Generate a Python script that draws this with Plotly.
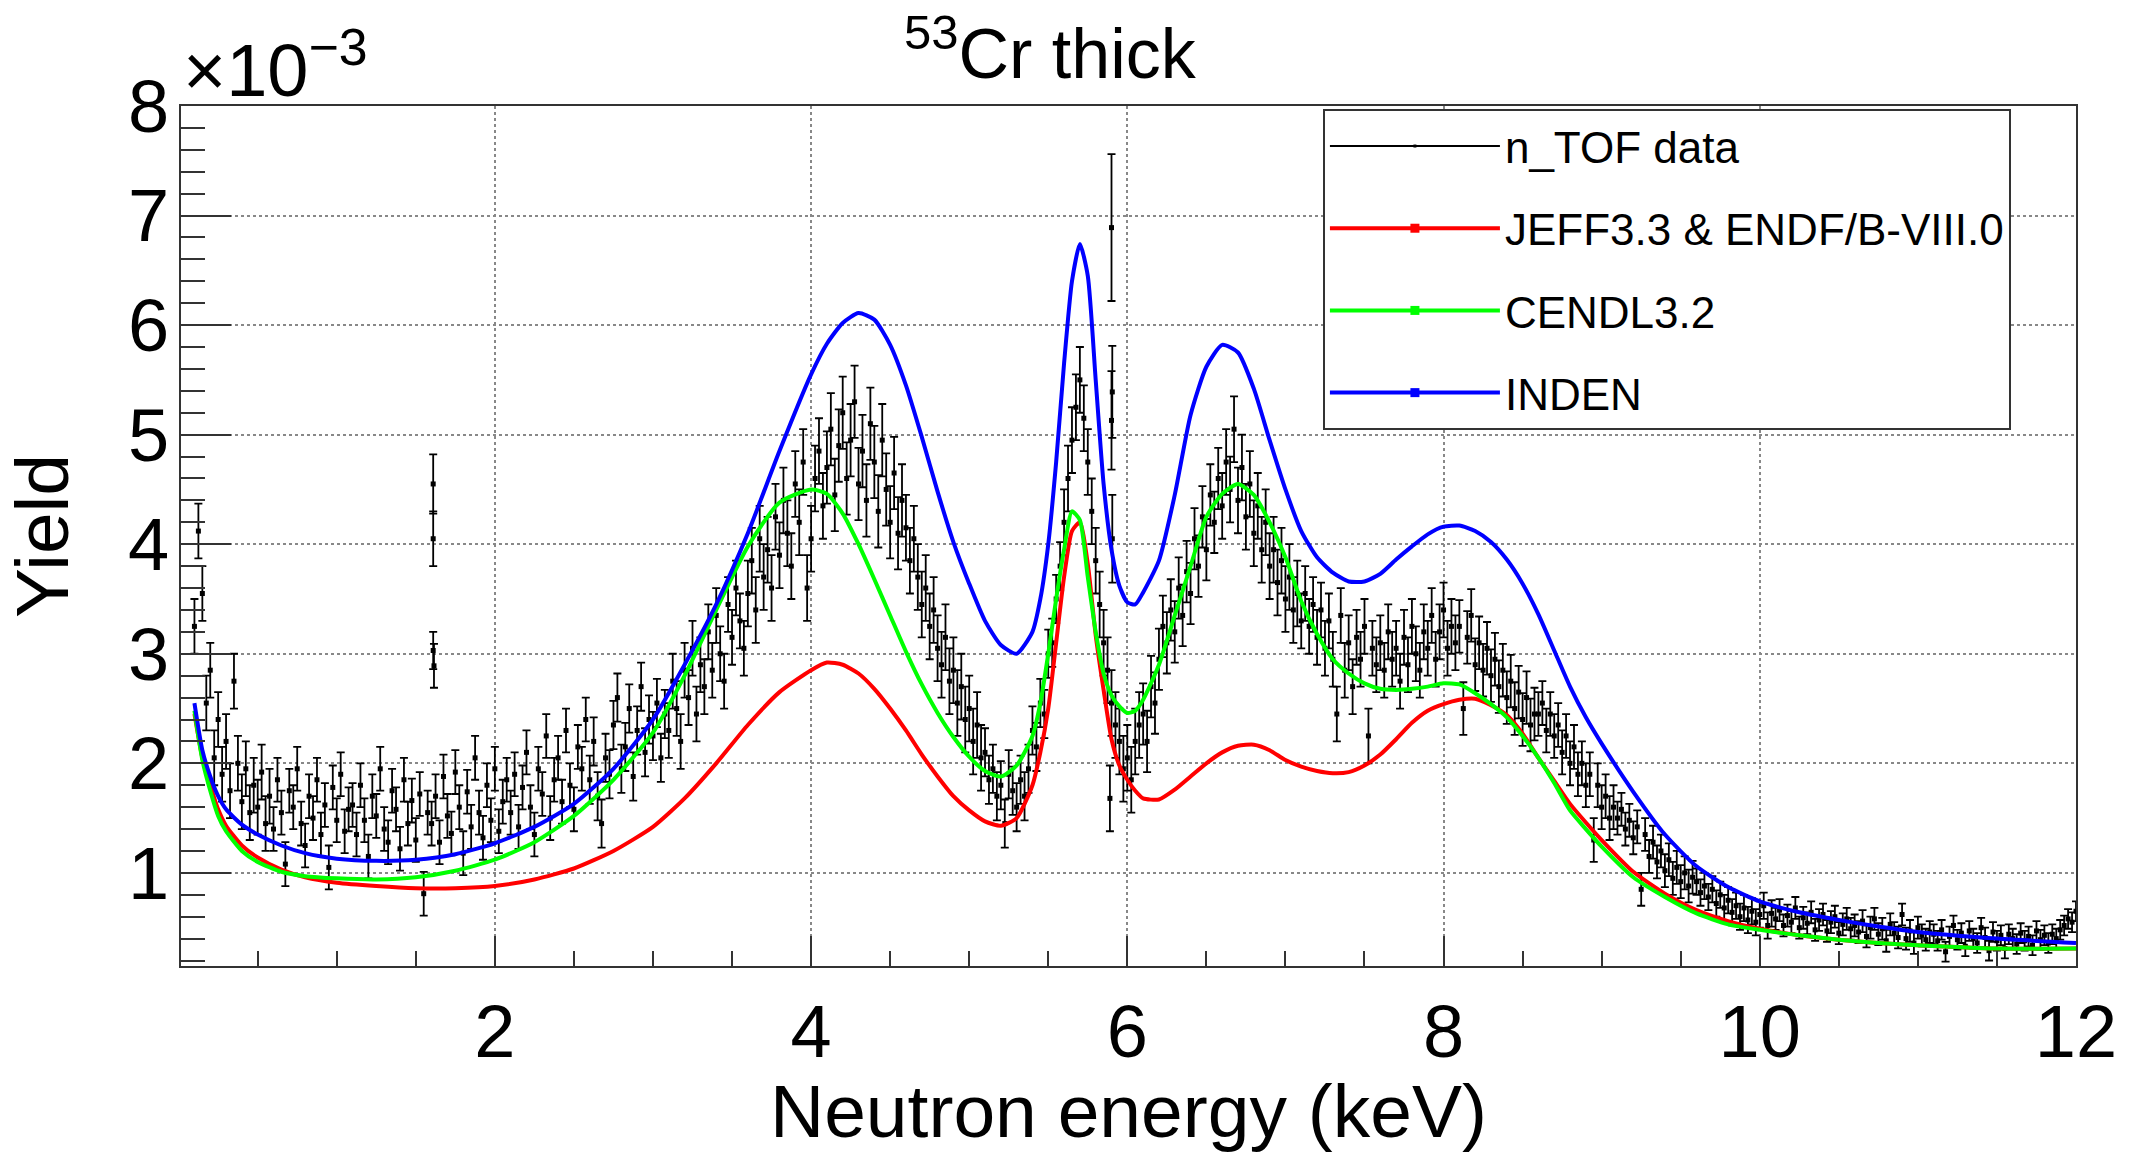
import plotly.graph_objects as go

# ---------------- n_TOF data (Yield in units of 1e-3), uniform 0.025 keV bins starting at 0.1 keV
E_START = 0.1
E_STEP = 0.025
YIELD = [
    # 0.100 - 0.575
    3.25, 4.12, 3.55, 2.55, 2.85, 2.05, 2.40, 1.90, 2.20, 1.75, 2.75, 2.00, 1.65, 1.95, 1.55, 1.80, 1.60, 1.92, 1.45, 1.70,
    # 0.600 - 1.075
    1.40, 1.85, 1.55, 1.08, 1.75, 1.60, 1.95, 1.45, 1.25, 1.70, 1.50, 1.85, 1.35, 1.62, 1.05, 1.78, 1.48, 1.90, 1.38, 1.58,
    # 1.100 - 1.575
    1.62, 1.35, 1.80, 1.48, 1.15, 1.70, 1.52, 1.95, 1.40, 1.28, 1.75, 1.58, 1.22, 1.85, 1.45, 1.66, 1.30, 1.72, 0.81, 1.55,
    # 1.600 - 2.075
    1.45, 1.70, 1.28, 1.88, 1.52, 1.36, 1.92, 1.60, 1.18, 1.74, 1.42, 2.05, 1.55, 1.32, 1.80, 1.48, 1.95, 1.38, 1.65, 1.85,
    # 2.100 - 2.575
    1.55, 1.90, 1.42, 1.78, 2.10, 1.60, 1.35, 1.95, 1.72, 2.25, 1.50, 1.85, 2.05, 1.65, 2.30, 1.80, 1.58, 2.15, 1.95, 2.40,
    # 2.600 - 3.075
    1.85, 2.20, 1.70, 1.45, 2.05, 1.90, 2.35, 2.60, 1.95, 2.15, 2.50, 1.88, 2.30, 2.70, 2.10, 2.40, 2.25, 2.55, 2.05, 2.45,
    # 3.100 - 3.575
    2.30, 2.75, 2.50, 2.20, 2.85, 2.60, 3.05, 2.45, 2.90, 2.70, 3.20, 2.85, 3.35, 3.00, 2.75, 3.45, 3.15, 3.60, 3.30, 3.05,
    # 3.600 - 4.075
    3.55, 3.85, 3.40, 4.05, 3.70, 3.95, 3.60, 4.25, 3.90, 4.40, 4.10, 3.80, 4.55, 4.20, 4.75, 3.60, 4.05, 4.60, 4.85, 4.35,
    # 4.100 - 4.575
    4.70, 5.05, 4.45, 4.90, 5.20, 4.60, 4.95, 5.30, 4.55, 4.85, 4.40, 5.10, 4.75, 4.30, 4.95, 4.50, 4.20, 4.65, 4.10, 4.40,
    # 4.600 - 5.075
    4.15, 3.85, 4.05, 3.70, 3.45, 3.60, 3.25, 3.40, 3.05, 2.90, 3.15, 2.75, 2.85, 2.55, 2.70, 2.40, 2.50, 2.20, 2.35, 2.05,
    # 5.100 - 5.575
    2.10, 1.85, 1.95, 1.70, 1.80, 1.45, 1.90, 1.75, 1.60, 1.85, 1.70, 1.95, 2.30, 2.15, 2.55, 2.45, 3.00, 3.10, 3.50, 3.80,
    # 5.600 - 6.075
    4.20, 4.60, 4.95, 5.25, 5.50, 5.15, 4.75, 4.30, 3.85, 3.45, 3.10, 2.85, 2.55, 2.35, 2.20, 1.95, 2.05, 1.85, 2.20, 2.35,
    # 6.100 - 6.575
    2.45, 2.20, 2.70, 2.55, 2.95, 3.25, 3.10, 3.40, 3.20, 3.60, 3.35, 3.75, 3.55, 4.05, 3.80, 4.25, 3.95, 4.45, 4.20, 4.60,
    # 6.600 - 7.075
    4.35, 4.75, 4.50, 5.05, 4.40, 4.70, 4.25, 4.55, 4.10, 4.35, 3.95, 4.20, 3.80, 3.95, 3.65, 3.85, 3.50, 3.70, 3.40, 3.55,
    # 7.100 - 7.575
    3.30, 3.55, 3.25, 3.45, 3.15, 3.40, 3.05, 3.30, 2.95, 2.45, 3.35, 2.85, 3.10, 2.70, 3.15, 2.95, 3.25, 2.25, 3.05, 2.90,
    # 7.600 - 8.075
    3.10, 2.85, 3.20, 2.95, 3.05, 2.75, 3.15, 2.90, 3.25, 3.00, 2.85, 3.20, 3.05, 3.35, 2.95, 3.20, 3.40, 3.05, 3.25, 3.10,
    # 8.100 - 8.575
    3.25, 2.50, 3.15, 3.35, 2.90, 3.10, 2.85, 3.05, 2.80, 2.95, 2.70, 2.85, 2.60, 2.75, 2.50, 2.65, 2.40, 2.60, 2.35, 2.45,
    # 8.600 - 9.075
    2.45, 2.55, 2.30, 2.45, 2.25, 2.35, 2.10, 2.25, 2.00, 2.15, 1.90, 2.00, 1.80, 1.90, 1.30, 1.80, 1.60, 1.70, 1.50, 1.60,
    # 9.100 - 9.575
    1.50, 1.58, 1.40, 1.48, 1.32, 1.42, 0.85, 1.35, 1.15, 1.28, 1.10, 1.20, 1.02, 1.12, 0.95, 1.05, 0.92, 1.00, 0.88, 0.96,
    # 9.600 - 10.075
    0.92, 0.82, 0.88, 0.78, 0.85, 0.72, 0.80, 0.68, 0.75, 0.64, 0.70, 0.60, 0.68, 0.57, 0.65, 0.55, 0.62, 0.70, 0.52, 0.63,
    # 10.100 - 10.575
    0.58, 0.66, 0.52, 0.61, 0.55, 0.68, 0.50, 0.59, 0.54, 0.64, 0.48, 0.57, 0.62, 0.47, 0.55, 0.60, 0.45, 0.53, 0.58, 0.49,
    # 10.600 - 11.075
    0.52, 0.46, 0.56, 0.42, 0.50, 0.58, 0.44, 0.49, 0.38, 0.53, 0.45, 0.41, 0.62, 0.40, 0.47, 0.36, 0.50, 0.43, 0.39, 0.46,
    # 11.100 - 11.575
    0.44, 0.38, 0.48, 0.28, 0.42, 0.52, 0.39, 0.45, 0.33, 0.47, 0.40, 0.36, 0.50, 0.41, 0.29, 0.46, 0.38, 0.43, 0.31, 0.44,
    # 11.600 - 12.000
    0.40, 0.35, 0.45, 0.38, 0.42, 0.34, 0.47, 0.39, 0.43, 0.36, 0.44, 0.40, 0.48, 0.52, 0.58, 0.55, 0.65,
]
# error (+/-) per block of 20 bins (0.5 keV)
ERR_BLOCK = [0.25, 0.20, 0.20, 0.20, 0.20, 0.22, 0.25, 0.30, 0.33, 0.30, 0.22, 0.30,
             0.28, 0.30, 0.25, 0.25, 0.24, 0.20, 0.15, 0.12, 0.10, 0.10, 0.09, 0.09]

# isolated outlying bins
OUT_E = [1.61, 1.61, 1.61, 1.615, 5.90, 5.905, 5.90, 5.905, 5.89]
OUT_Y = [4.55, 4.05, 3.03, 2.89, 6.89, 5.39, 5.13, 4.05, 1.68]
OUT_ERR = [0.27, 0.25, 0.17, 0.20, 0.67, 0.42, 0.45, 0.40, 0.30]

# ---------------- evaluated-library yields (units of 1e-3)
CURVE_E = [0.1, 0.15, 0.2, 0.25, 0.3, 0.4, 0.5, 0.65, 0.8, 1.0,
           1.25, 1.5, 1.75, 2.0, 2.25, 2.5, 2.75, 3.0, 3.2, 3.4,
           3.6, 3.8, 4.0, 4.1, 4.2, 4.3, 4.4, 4.5, 4.6, 4.7,
           4.8, 4.9, 5.0, 5.1, 5.2, 5.3, 5.4, 5.45, 5.5, 5.55,
           5.6, 5.65, 5.7, 5.75, 5.8, 5.85, 5.9, 5.95, 6.0, 6.05,
           6.1, 6.2, 6.3, 6.4, 6.5, 6.6, 6.7, 6.8, 6.9, 7.0,
           7.1, 7.2, 7.3, 7.4, 7.5, 7.6, 7.7, 7.8, 7.9, 8.0,
           8.1, 8.2, 8.3, 8.4, 8.5, 8.6, 8.7, 8.8, 8.9, 9.0,
           9.2, 9.4, 9.6, 9.8, 10.0, 10.25, 10.5, 10.75, 11.0, 11.5,
           12.0]
JEFF = [2.45, 2.05, 1.80, 1.58, 1.43, 1.25, 1.14, 1.03, 0.96, 0.91,
        0.88, 0.86, 0.86, 0.88, 0.94, 1.04, 1.20, 1.42, 1.68, 2.00,
        2.35, 2.65, 2.85, 2.92, 2.90, 2.82, 2.68, 2.50, 2.30, 2.08,
        1.88, 1.70, 1.57, 1.47, 1.43, 1.50, 1.80, 2.10, 2.50, 3.10,
        3.70, 4.12, 4.20, 3.82, 3.17, 2.67, 2.22, 1.98, 1.85, 1.75,
        1.68, 1.67, 1.76, 1.88, 2.00, 2.10, 2.16, 2.17, 2.12, 2.03,
        1.97, 1.93, 1.91, 1.92, 1.98, 2.08, 2.22, 2.37, 2.48, 2.54,
        2.58, 2.59, 2.53, 2.44, 2.27, 2.05, 1.84, 1.63, 1.46, 1.30,
        1.01, 0.81, 0.66, 0.56, 0.49, 0.43, 0.39, 0.36, 0.34, 0.31,
        0.31]
CENDL = [2.48, 2.03, 1.75, 1.52, 1.38, 1.20, 1.10, 1.01, 0.97, 0.95,
         0.94, 0.96, 1.02, 1.12, 1.28, 1.52, 1.85, 2.28, 2.80, 3.40,
         3.98, 4.38, 4.50, 4.46, 4.28, 4.00, 3.68, 3.35, 3.02, 2.72,
         2.46, 2.24, 2.06, 1.93, 1.88, 1.98, 2.25, 2.55, 3.00, 3.50,
         3.95, 4.30, 4.22, 3.70, 3.20, 2.82, 2.62, 2.52, 2.46, 2.48,
         2.58, 2.90, 3.35, 3.80, 4.25, 4.46, 4.55, 4.45, 4.20, 3.88,
         3.48, 3.18, 2.95, 2.82, 2.73, 2.68, 2.67, 2.68, 2.70, 2.73,
         2.72, 2.64, 2.54, 2.42, 2.25, 2.05, 1.82, 1.57, 1.40, 1.24,
         0.96, 0.78, 0.63, 0.53, 0.48, 0.43, 0.39, 0.36, 0.34, 0.31,
         0.31]
INDEN = [2.55, 2.12, 1.88, 1.70, 1.58, 1.44, 1.35, 1.25, 1.18, 1.13,
         1.11, 1.12, 1.17, 1.27, 1.42, 1.63, 1.95, 2.40, 2.90, 3.45,
         4.10, 4.85, 5.55, 5.83, 6.02, 6.11, 6.05, 5.82, 5.45, 4.98,
         4.48, 4.02, 3.64, 3.30, 3.08, 3.00, 3.20, 3.50, 4.00, 4.75,
         5.65, 6.40, 6.74, 6.45, 5.50, 4.55, 3.95, 3.62, 3.47, 3.45,
         3.56, 3.85, 4.45, 5.18, 5.62, 5.82, 5.75, 5.42, 4.95, 4.50,
         4.12, 3.88, 3.74, 3.66, 3.66, 3.73, 3.86, 3.98, 4.09, 4.16,
         4.17, 4.12, 4.02, 3.86, 3.64, 3.36, 3.03, 2.70, 2.42, 2.18,
         1.74, 1.35, 1.06, 0.87, 0.74, 0.64, 0.57, 0.51, 0.46, 0.40,
         0.36]

LEGEND_NAMES = ["n_TOF data", "JEFF3.3 & ENDF/B-VIII.0", "CENDL3.2", "INDEN"]
COLORS = ["#000000", "#ff0000", "#00ff00", "#0000ff"]
X_TICKS = [2, 4, 6, 8, 10, 12]
Y_TICKS = [1, 2, 3, 4, 5, 6, 7, 8]

# ---------------- build
data_E = [round(E_START + i * E_STEP, 4) for i in range(len(YIELD))] + OUT_E
data_Y = YIELD + OUT_Y
data_err = [ERR_BLOCK[i // 20] for i in range(len(YIELD))] + OUT_ERR

FONT = "Liberation Sans, Arial, Helvetica, sans-serif"
fig = go.Figure()

fig.add_trace(go.Scatter(
    x=data_E, y=data_Y, mode="markers", showlegend=False,
    marker=dict(symbol="square", size=5, color="black"),
    error_y=dict(type="data", array=data_err, visible=True, color="black", thickness=1.8, width=4),
))
for yv, c in zip([JEFF, CENDL, INDEN], COLORS[1:]):
    fig.add_trace(go.Scatter(x=CURVE_E, y=yv, mode="lines", showlegend=False,
                             line=dict(color=c, width=4, shape="spline", smoothing=0.6)))

# legend entries
for i, (name, c) in enumerate(zip(LEGEND_NAMES, COLORS)):
    fig.add_trace(go.Scatter(
        x=[None], y=[None], mode="lines+markers", name=name, legendgroup=f"g{i}",
        line=dict(color=c, width=2 if i == 0 else 4),
        marker=dict(symbol="square", size=3 if i == 0 else 9, color=c),
    ))

axis_common = dict(
    showline=True, mirror=True, linecolor="#333", linewidth=2,
    ticks="inside", tickcolor="#333", tickwidth=2,
    showgrid=True, gridcolor="#888", griddash="dot", gridwidth=1.5,
    zeroline=False, tickfont=dict(size=74, family=FONT, color="black"),
)
fig.update_xaxes(
    range=[0.015, 12.0], tickmode="array", tickvals=X_TICKS, ticktext=[str(v) for v in X_TICKS],
    ticklen=30, ticklabelstandoff=0,
    minor=dict(ticks="inside", ticklen=15, tickwidth=2, tickcolor="#333", dtick=0.5, tick0=0, showgrid=False),
    title=dict(text="Neutron energy (keV)", font=dict(size=75, family=FONT, color="black"), standoff=16),
    **axis_common,
)
fig.update_yaxes(
    range=[0.15, 8.0], tickmode="array", tickvals=Y_TICKS, ticktext=[str(v) for v in Y_TICKS],
    ticklen=50, ticklabelstandoff=-5,
    minor=dict(ticks="inside", ticklen=24, tickwidth=2, tickcolor="#333", dtick=0.2, tick0=0, showgrid=False),
    title=dict(text="Yield", font=dict(size=75, family=FONT, color="black"), standoff=48),
    **axis_common,
)

fig.update_layout(
    width=2136, height=1153,
    margin=dict(l=181, r=60, t=106, b=170),
    paper_bgcolor="white", plot_bgcolor="white",
    font=dict(family=FONT, color="black"),
    legend=dict(x=0.6026, y=0.9966, xanchor="left", yanchor="top",
                bgcolor="white", bordercolor="#333", borderwidth=2,
                font=dict(size=44, family=FONT, color="black"),
                tracegroupgap=22, itemwidth=170, traceorder="grouped",
                entrywidth=560, entrywidthmode="pixels"),
    annotations=[
        dict(text="<sup>53</sup>Cr thick", x=0.4586, y=1.066, xref="paper", yref="paper",
             xanchor="center", yanchor="middle", showarrow=False,
             font=dict(size=70, family=FONT, color="black")),
        dict(text="×10<sup>−3</sup>", x=0.0, y=0.991, xref="paper", yref="paper",
             xanchor="left", yanchor="bottom", showarrow=False,
             font=dict(size=74, family=FONT, color="black")),
    ],
)

fig.write_html("out.html")
